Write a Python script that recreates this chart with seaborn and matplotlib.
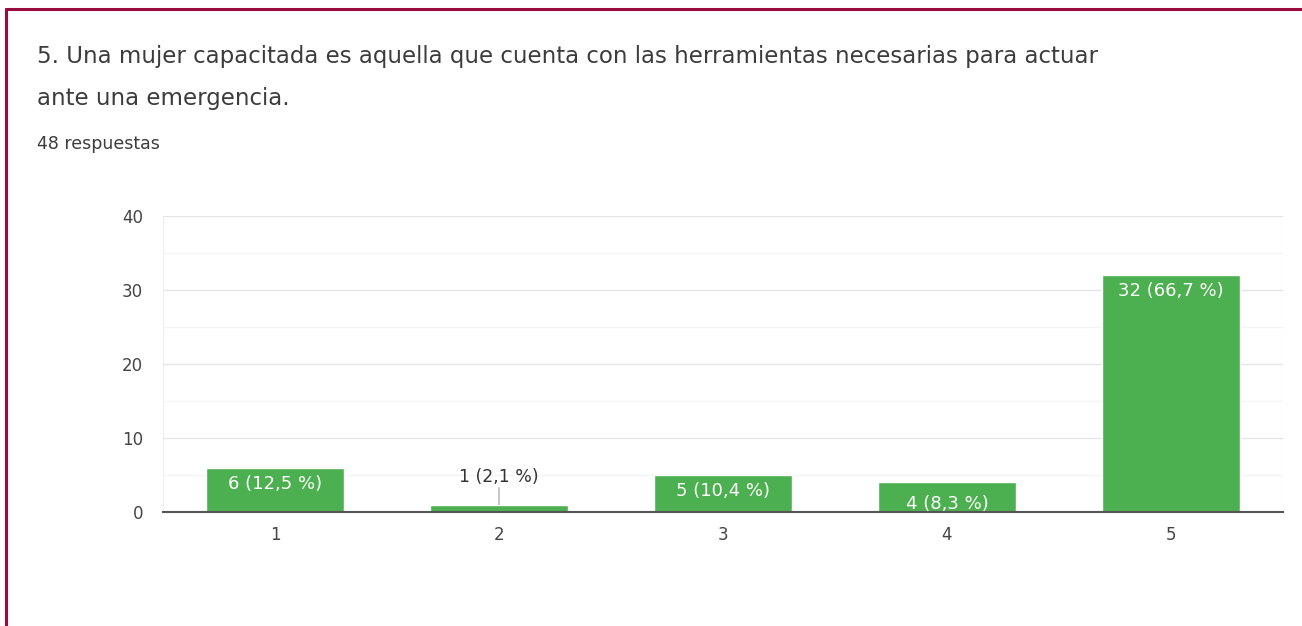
import matplotlib
matplotlib.use("Agg")
import matplotlib.pyplot as plt
from matplotlib.lines import Line2D
from matplotlib.ticker import MultipleLocator
import seaborn as sns
import pandas as pd

# Survey results: rating scale 1-5, counts and share of 48 responses
categories = ["1", "2", "3", "4", "5"]
counts = [6, 1, 5, 4, 32]
percent_labels = ["12,5 %", "2,1 %", "10,4 %", "8,3 %", "66,7 %"]
title_lines = [
    "5. Una mujer capacitada es aquella que cuenta con las herramientas necesarias para actuar",
    "ante una emergencia.",
]
subtitle = "48 respuestas"
y_ticks = [0, 10, 20, 30, 40]

df = pd.DataFrame({"opcion": categories, "respuestas": counts})

sns.set_theme(style="white")
plt.rcParams["font.family"] = ["DejaVu Sans"]

W, H = 1302, 626
PX = 72 / 100  # points per pixel at dpi 100
fig = plt.figure(figsize=(W / 100, H / 100), dpi=100)
fig.patch.set_facecolor("white")

ax = fig.add_axes([163 / W, 1 - 512 / H, (1283 - 163) / W, (512 - 216) / H])
green = "#4caf50"
sns.barplot(data=df, x="opcion", y="respuestas", color=green, saturation=1,
            width=0.617, ax=ax, zorder=3)

ax.set_xlim(-0.5, 4.5)
ax.set_ylim(0, 40)
ax.set_yticks(y_ticks)
ax.yaxis.set_minor_locator(MultipleLocator(5))
ax.grid(axis="y", which="major", color="#e6e6e6", linewidth=1, zorder=0)
ax.grid(axis="y", which="minor", color="#f4f4f4", linewidth=1, zorder=0)
ax.set_xlabel("")
ax.set_ylabel("")
for side in ["top", "right", "left"]:
    ax.spines[side].set_visible(False)
ax.spines["bottom"].set_color("#555555")
ax.spines["bottom"].set_linewidth(1.5)
ax.spines["bottom"].set_zorder(4)
ax.tick_params(axis="both", which="both", length=0, labelsize=12,
               labelcolor="#444444")
ax.tick_params(axis="y", pad=20 * PX)
ax.tick_params(axis="x", pad=14 * PX)
# faint frame around the plot area
ax.axvline(-0.5, color="#f0f0f0", linewidth=1, zorder=0)
ax.axvline(4.5, color="#f0f0f0", linewidth=1, zorder=0)

for i, (n, pct) in enumerate(zip(counts, percent_labels)):
    text = f"{n} ({pct})"
    if n >= 3:
        # inside the bar, near its top
        ax.annotate(text, (i, n), xytext=(0, -16 * PX - (6 * PX if n < 5 else 0)),
                    textcoords="offset points", ha="center", va="center",
                    color="white", fontsize=13, zorder=5)
    else:
        # above a short bar, joined by a thin leader line
        ax.annotate(text, (i, n), xytext=(0, 28 * PX), textcoords="offset points",
                    ha="center", va="center", color="#333333", fontsize=12.5,
                    zorder=5)
        ax.annotate("", xy=(i, n), xytext=(0, 17 * PX), textcoords="offset points",
                    arrowprops=dict(arrowstyle="-", color="#999999", lw=0.8,
                                    shrinkA=0, shrinkB=0), zorder=5)

fig.text(37 / W, 1 - 57 / H, title_lines[0], fontsize=16.5, color="#3c3c3c",
         va="center", ha="left")
fig.text(37 / W, 1 - 99 / H, title_lines[1], fontsize=16.5, color="#3c3c3c",
         va="center", ha="left")
fig.text(37 / W, 1 - 144 / H, subtitle, fontsize=12.5, color="#3c3c3c",
         va="center", ha="left")

# page border: top and left edges
border = "#9b0a3c"
fig.add_artist(Line2D([6 / W, 1], [1 - 9 / H, 1 - 9 / H], color=border,
                      linewidth=2.2, transform=fig.transFigure))
fig.add_artist(Line2D([6 / W, 6 / W], [0, 1 - 9 / H], color=border,
                      linewidth=2.2, transform=fig.transFigure))

fig.savefig("out.png", dpi=100, facecolor="white")
